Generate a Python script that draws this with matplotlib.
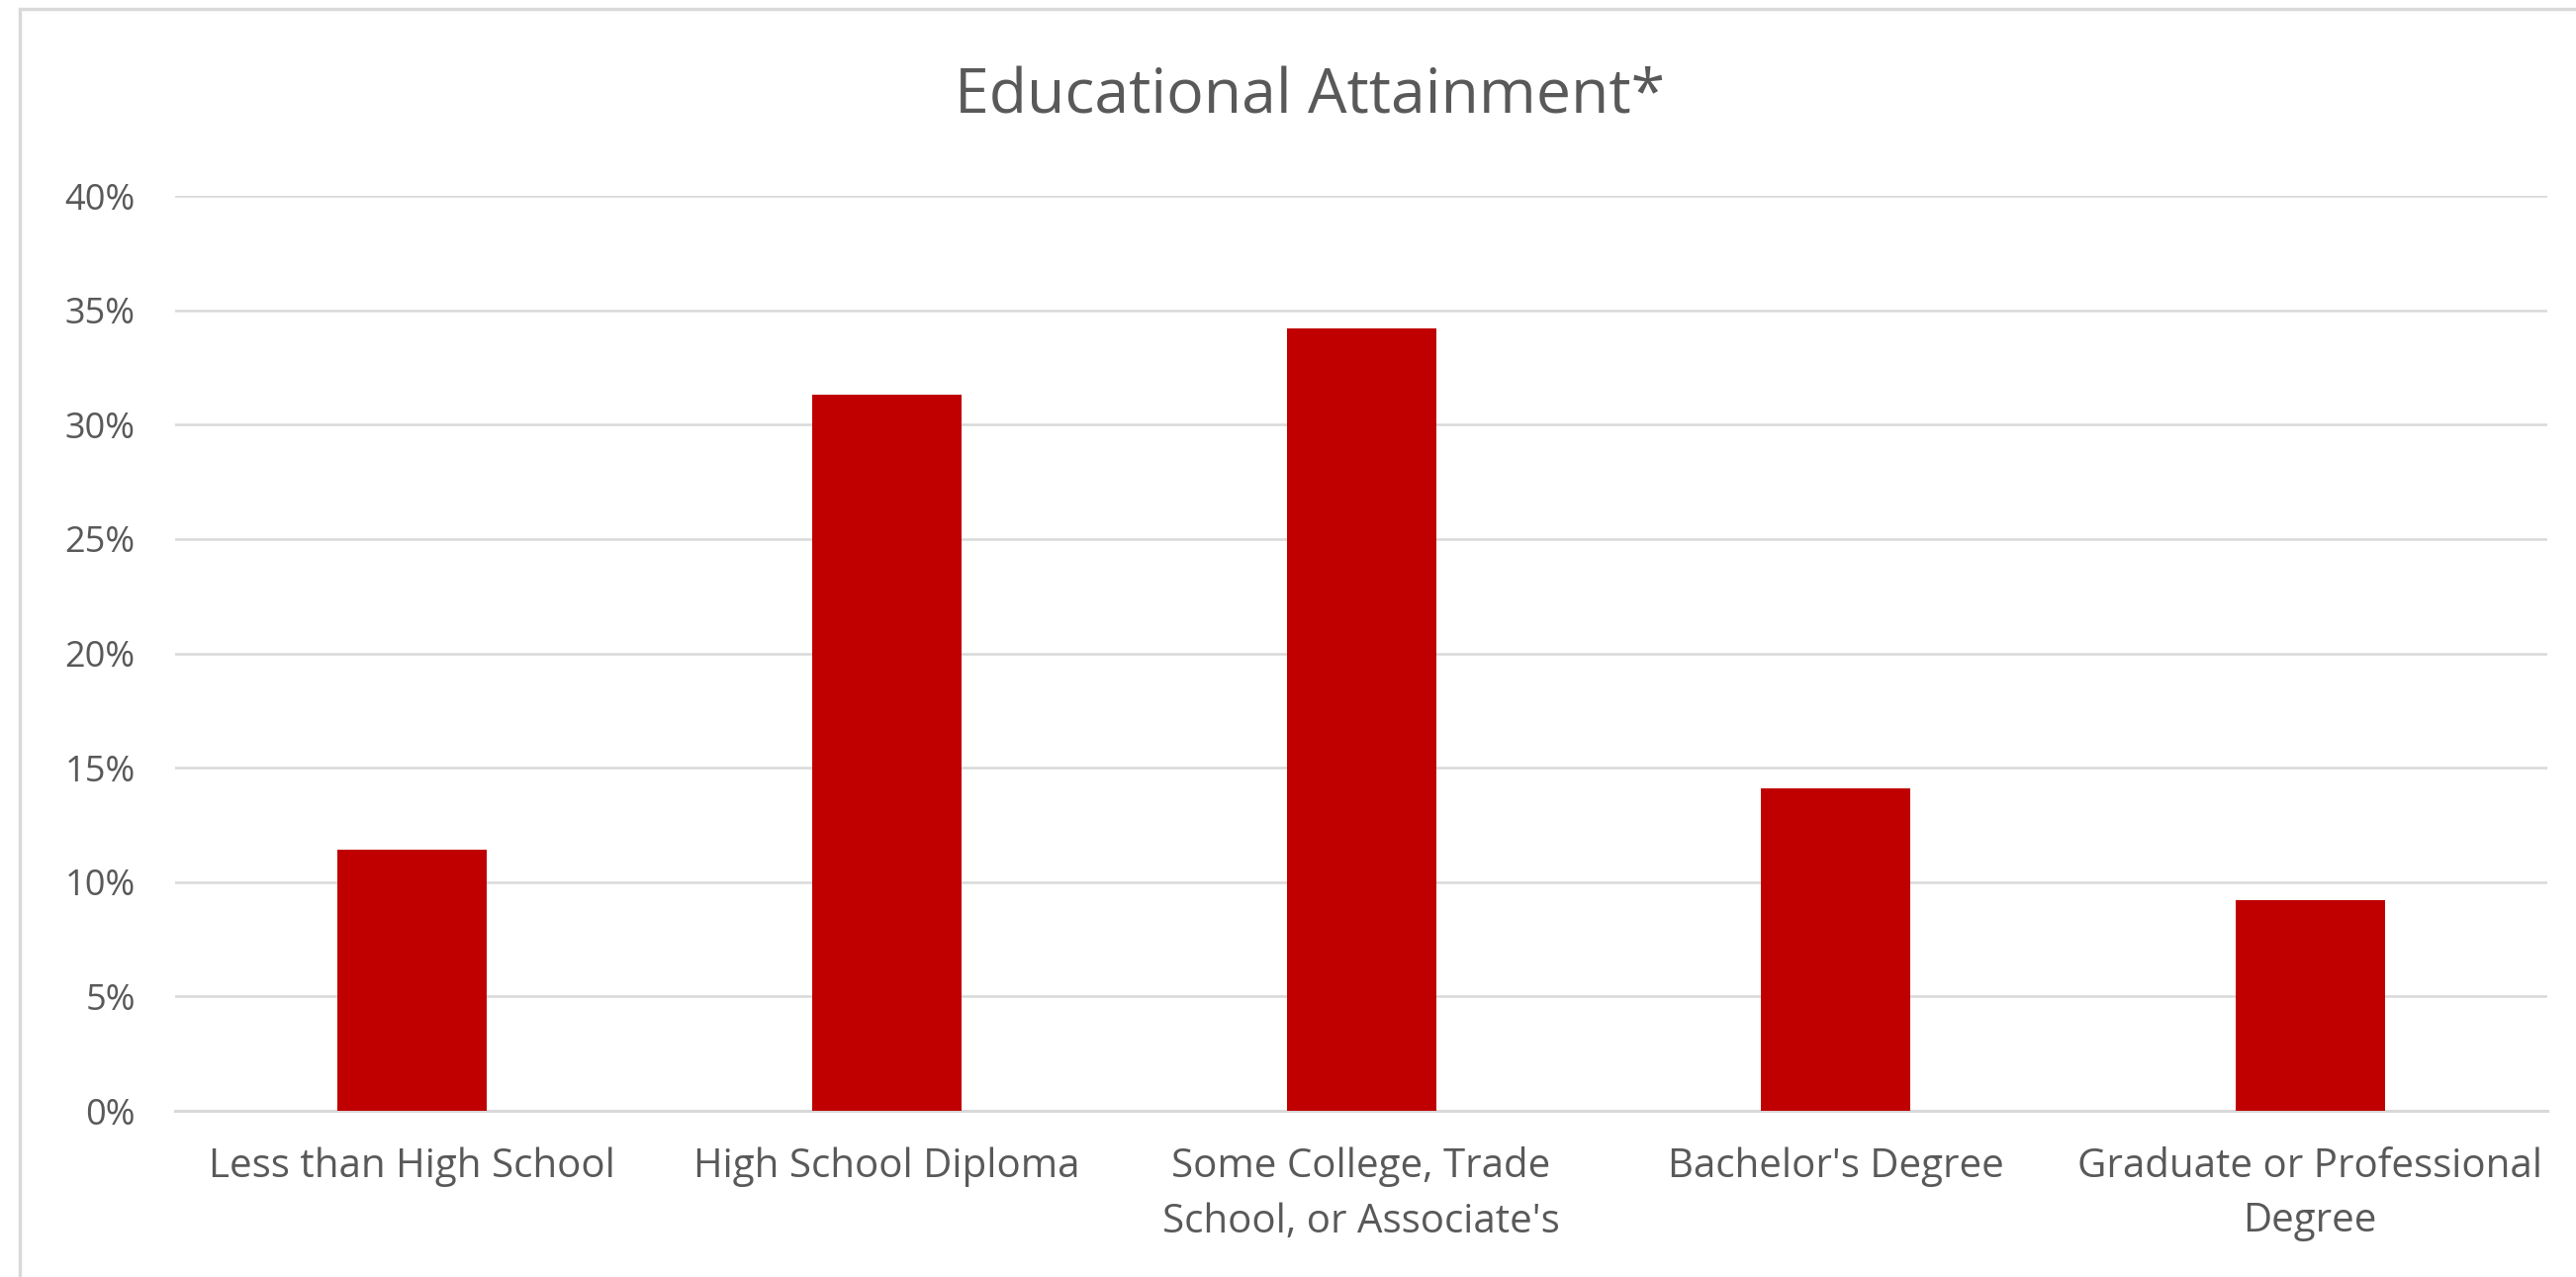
import matplotlib.pyplot as plt
from matplotlib.patches import Rectangle
from matplotlib.ticker import PercentFormatter

plt.rcParams['font.family'] = ['Open Sans', 'DejaVu Sans']

categories = ['Less than High School', 'High School Diploma',
              'Some College, Trade\nSchool, or Associate\'s',
              'Bachelor\'s Degree', 'Graduate or Professional\nDegree']
shares = [11.4, 31.3, 34.2, 14.1, 9.2]
yticks = [0, 5, 10, 15, 20, 25, 30, 35, 40]

text_color = '#595959'
grid_color = '#D9D9D9'

fig = plt.figure(figsize=(26.04, 12.91), dpi=100)
ax = fig.add_axes([0.068, 0.1301, 0.9209, 0.7165])

x = range(len(categories))
ax.bar(x, shares, width=0.315, color='#C00000', zorder=3)

ax.set_xlim(-0.5, len(categories) - 0.5)
ax.set_ylim(0, 40)
ax.set_yticks(yticks)
ax.yaxis.set_major_formatter(PercentFormatter(decimals=0))
ax.set_xticks(list(x))
ax.set_xticklabels(categories, linespacing=1.5)

ax.grid(axis='y', color=grid_color, linewidth=1.8, zorder=0)
ax.tick_params(axis='both', length=0, labelcolor=text_color)
ax.tick_params(axis='y', pad=29, labelsize=26)
ax.tick_params(axis='x', pad=26, labelsize=29)
for side in ['top', 'right', 'left']:
    ax.spines[side].set_visible(False)
ax.spines['bottom'].set_color(grid_color)
ax.spines['bottom'].set_linewidth(2.2)

fig.text(0.5085, 0.924, 'Educational Attainment*', ha='center', va='center',
         fontsize=45, color=text_color)

# chart frame, cut off on the right and bottom
fig.patches.append(Rectangle((20 / 2604, -0.1), 1.2, 1.1 - 9 / 1291,
                             transform=fig.transFigure, fill=False,
                             edgecolor='#D9D9D9', linewidth=2.5))

fig.savefig('out.png', dpi=100)
